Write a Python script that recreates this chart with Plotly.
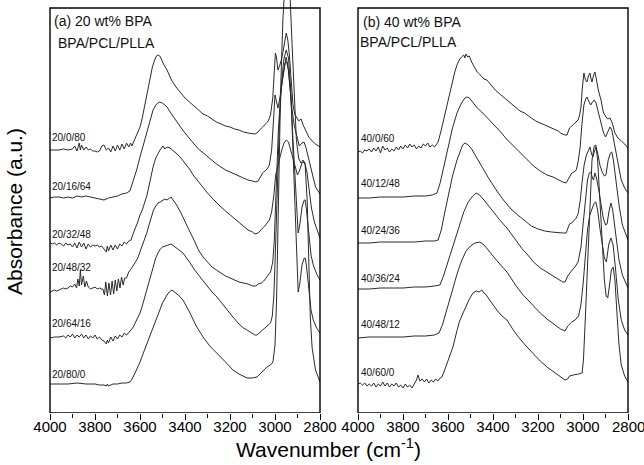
import plotly.graph_objects as go

# ---------------- data: (wavenumber cm-1, absorbance a.u., offset-stacked) ----------------
a_20_0_80 = [(4000,350),(3980,350),(3960,350),(3940,351),(3920,350),(3900,351),(3890,354),(3880,349),(3870,357),(3865,350),(3860,355),(3850,350),(3840,353),(3830,350),(3820,351),(3810,349),(3800,349),(3790,348),(3780,349),(3770,354),(3760,355),(3750,350),(3740,352),(3730,348),(3720,354),(3710,349),(3700,355),(3690,350),(3680,356),(3670,351),(3660,357),(3650,353),(3642,357),(3636,354),(3625,360),(3610,367),(3600,373),(3590,382),(3580,393),(3570,404),(3564,413),(3555,424),(3545,433),(3535,440),(3527,444),(3520,445),(3512,444),(3505,441),(3498,437),(3480,430),(3460,420),(3440,413),(3420,407),(3400,402),(3380,398),(3360,394),(3340,389),(3320,386),(3300,384),(3280,381),(3260,378),(3240,376),(3220,374),(3200,373),(3180,371),(3160,370),(3140,368),(3120,367),(3100,366),(3090,366),(3080,367),(3070,370),(3060,372),(3050,374),(3040,376),(3030,379),(3020,385),(3010,402),(3004,425),(2998,447),(2993,442),(2987,430),(2980,434),(2972,440),(2963,450),(2956,462),(2950,467),(2943,460),(2936,445),(2928,420),(2920,395),(2912,386),(2904,382),(2895,379),(2884,381),(2875,375),(2862,369),(2850,363),(2835,359),(2820,356),(2800,353)]

a_20_16_64 = [(4000,302),(3980,303),(3960,303),(3940,302),(3920,303),(3900,302),(3880,304),(3860,303),(3840,304),(3820,303),(3800,302),(3780,301),(3760,300),(3740,302),(3720,303),(3700,304),(3680,306),(3660,307),(3645,309),(3631,318),(3615,330),(3600,343),(3585,355),(3569,370),(3555,381),(3542,390),(3530,395),(3515,398),(3500,397),(3480,393),(3460,386),(3440,379),(3420,373),(3400,367),(3380,361),(3360,356),(3340,351),(3320,347),(3300,344),(3280,340),(3260,336),(3240,333),(3220,330),(3200,328),(3180,326),(3160,324),(3140,322),(3120,320),(3100,319),(3085,318),(3075,319),(3065,323),(3055,327),(3045,329),(3035,331),(3025,335),(3015,350),(3006,382),(3000,405),(2993,398),(2987,392),(2980,400),(2970,415),(2960,432),(2951,443),(2943,435),(2935,415),(2925,392),(2915,375),(2905,365),(2892,354),(2880,357),(2871,358),(2862,352),(2850,340),(2835,325),(2820,313),(2800,306)]

a_20_32_48 = [(4000,257),(3990,256),(3980,257),(3970,255),(3960,257),(3950,256),(3940,254),(3930,257),(3920,255),(3910,256),(3900,253),(3890,257),(3880,252),(3870,258),(3860,253),(3850,257),(3840,251),(3830,256),(3820,253),(3810,255),(3800,254),(3790,255),(3780,253),(3770,254),(3760,251),(3750,248),(3745,254),(3740,249),(3730,255),(3720,250),(3710,255),(3700,251),(3690,256),(3680,254),(3670,258),(3660,256),(3650,259),(3640,260),(3631,266),(3620,272),(3610,278),(3600,285),(3590,290),(3580,297),(3570,304),(3560,314),(3550,325),(3542,333),(3530,342),(3520,347),(3511,350),(3505,352),(3498,354),(3490,351),(3480,353),(3467,352),(3455,350),(3440,347),(3422,343),(3400,337),(3380,331),(3364,325),(3340,318),(3320,312),(3300,307),(3280,302),(3260,297),(3240,293),(3220,289),(3200,285),(3180,281),(3160,277),(3140,273),(3120,270),(3100,268),(3089,266),(3075,267),(3065,270),(3055,272),(3045,274),(3035,277),(3025,280),(3015,288),(3005,305),(2997,325),(2990,332),(2980,340),(2970,350),(2960,357),(2950,360),(2940,358),(2930,350),(2920,340),(2910,332),(2900,325),(2890,330),(2880,337),(2868,338),(2858,328),(2848,310),(2838,292),(2825,278),(2810,268),(2800,262)]

a_20_48_32 = [(4000,208),(3990,209),(3980,210),(3970,209),(3960,210),(3950,211),(3940,212),(3930,211),(3920,212),(3910,214),(3900,213),(3890,216),(3882,212),(3876,221),(3870,214),(3865,230),(3860,215),(3852,224),(3845,213),(3838,219),(3830,213),(3820,211),(3810,212),(3800,213),(3790,211),(3780,212),(3770,211),(3765,211),(3758,205),(3752,218),(3745,204),(3738,217),(3731,205),(3724,219),(3717,206),(3710,220),(3703,209),(3696,221),(3689,212),(3682,223),(3675,215),(3668,222),(3660,222),(3650,228),(3640,231),(3630,234),(3620,238),(3610,242),(3600,248),(3590,254),(3580,260),(3570,267),(3560,275),(3550,283),(3540,290),(3530,294),(3520,297),(3510,298),(3500,300),(3490,301),(3480,300),(3470,302),(3462,303),(3450,299),(3440,296),(3420,288),(3400,278),(3380,269),(3360,260),(3340,250),(3320,243),(3300,238),(3280,233),(3260,230),(3240,227),(3220,224),(3200,222),(3180,220),(3160,218),(3140,217),(3120,216),(3100,214),(3085,214),(3075,216),(3060,217),(3050,219),(3040,222),(3030,225),(3020,228),(3010,238),(3003,260),(2995,310),(2985,370),(2975,405),(2965,425),(2955,437),(2948,438),(2940,430),(2930,405),(2920,360),(2910,315),(2903,285),(2897,267),(2890,275),(2880,293),(2870,300),(2866,300),(2860,290),(2850,265),(2840,245),(2830,235),(2815,226),(2800,220)]

a_20_64_16 = [(4000,162),(3980,163),(3960,163),(3940,164),(3930,162),(3920,165),(3910,163),(3900,166),(3890,162),(3880,165),(3870,163),(3860,166),(3850,162),(3840,165),(3830,161),(3820,164),(3810,162),(3800,165),(3790,161),(3780,163),(3770,160),(3760,159),(3750,156),(3745,160),(3740,157),(3730,163),(3720,159),(3710,164),(3700,161),(3690,165),(3680,163),(3670,167),(3660,165),(3650,167),(3640,170),(3630,173),(3620,178),(3610,182),(3600,187),(3590,194),(3580,202),(3570,210),(3560,219),(3550,228),(3540,236),(3530,242),(3520,247),(3510,251),(3500,253),(3490,254),(3480,255),(3470,256),(3462,256),(3450,254),(3430,251),(3409,247),(3380,238),(3360,231),(3333,223),(3300,213),(3280,208),(3258,203),(3230,195),(3210,189),(3187,183),(3160,176),(3140,172),(3124,170),(3105,167),(3090,165),(3080,165),(3070,167),(3060,169),(3050,170),(3040,172),(3030,174),(3020,177),(3012,184),(3005,205),(2998,250),(2990,310),(2980,380),(2970,420),(2960,442),(2950,450),(2940,442),(2930,410),(2920,350),(2910,280),(2903,235),(2897,208),(2890,216),(2880,235),(2870,242),(2866,242),(2860,234),(2850,210),(2840,190),(2830,180),(2815,172),(2800,167)]

a_20_80_0 = [(4000,116),(3960,116),(3920,116),(3880,117),(3840,116),(3800,116),(3780,115),(3760,115),(3750,114),(3745,116),(3740,114),(3720,116),(3700,116),(3680,117),(3660,117),(3645,118),(3635,121),(3620,128),(3600,138),(3580,150),(3560,162),(3540,175),(3520,187),(3500,197),(3480,205),(3470,208),(3458,210),(3445,208),(3430,205),(3409,200),(3380,188),(3350,174),(3320,163),(3290,154),(3258,147),(3220,138),(3187,130),(3160,126),(3124,122),(3100,122),(3080,123),(3060,127),(3045,131),(3036,133),(3020,135),(3009,138),(3000,155),(2993,200),(2985,300),(2975,410),(2965,480),(2955,520),(2945,530),(2935,515),(2925,460),(2915,400),(2905,360),(2895,342),(2885,337),(2875,340),(2866,335),(2857,300),(2850,240),(2843,182),(2835,152),(2820,130),(2800,118)]

b_40_0_60 = [(4000,348),(3990,349),(3980,347),(3970,350),(3960,349),(3950,351),(3940,348),(3930,352),(3920,349),(3910,353),(3900,347),(3890,354),(3880,350),(3870,352),(3860,348),(3850,351),(3840,349),(3830,353),(3820,350),(3810,354),(3800,351),(3790,355),(3780,352),(3770,356),(3760,353),(3750,355),(3740,351),(3730,354),(3720,352),(3710,356),(3700,354),(3690,357),(3680,353),(3670,355),(3660,353),(3650,356),(3644,358),(3630,370),(3620,380),(3610,390),(3600,400),(3590,410),(3580,420),(3570,428),(3560,435),(3550,440),(3540,443),(3530,445),(3525,442),(3520,446),(3512,443),(3505,444),(3495,438),(3485,434),(3470,428),(3460,426),(3450,424),(3440,421),(3427,420),(3410,415),(3390,410),(3370,406),(3350,402),(3338,400),(3320,396),(3300,392),(3280,389),(3260,387),(3249,385),(3230,382),(3210,379),(3190,377),(3170,375),(3150,373),(3133,372),(3120,370),(3110,369),(3100,367),(3090,366),(3080,365),(3071,365),(3065,369),(3060,372),(3050,374),(3040,376),(3030,378),(3022,380),(3015,385),(3009,393),(3003,412),(2996,427),(2989,420),(2982,418),(2976,424),(2969,427),(2964,421),(2960,418),(2954,424),(2947,428),(2940,420),(2932,410),(2920,400),(2910,388),(2898,383),(2890,381),(2880,382),(2870,377),(2858,367),(2845,362),(2830,359),(2815,356),(2800,352)]

b_40_12_48 = [(4000,302),(3950,302),(3900,303),(3850,303),(3800,303),(3750,304),(3700,304),(3670,305),(3649,307),(3635,317),(3620,332),(3600,352),(3580,372),(3560,387),(3540,397),(3525,402),(3516,403),(3505,402),(3490,398),(3470,392),(3450,388),(3425,382),(3400,377),(3370,369),(3340,361),(3310,354),(3280,347),(3250,340),(3220,334),(3190,329),(3160,325),(3133,323),(3110,320),(3090,318),(3075,317),(3068,320),(3060,324),(3050,327),(3040,328),(3030,330),(3022,338),(3013,352),(3005,375),(2996,395),(2988,401),(2982,403),(2975,399),(2966,395),(2958,398),(2950,400),(2942,397),(2932,388),(2920,378),(2910,368),(2900,363),(2890,368),(2880,373),(2872,370),(2860,355),(2845,335),(2830,320),(2815,312),(2800,307)]

b_40_24_36 = [(4000,257),(3950,257),(3900,258),(3850,258),(3800,258),(3750,258),(3700,259),(3660,259),(3644,260),(3630,270),(3615,287),(3600,304),(3580,324),(3560,340),(3545,350),(3535,355),(3524,357),(3510,355),(3495,351),(3480,345),(3460,338),(3440,330),(3420,322),(3400,315),(3380,308),(3350,299),(3320,291),(3290,285),(3260,279),(3230,274),(3200,271),(3170,269),(3140,268),(3110,267),(3090,267),(3075,267),(3068,271),(3060,276),(3050,277),(3040,279),(3030,282),(3022,286),(3012,300),(3003,320),(2995,335),(2985,345),(2976,350),(2969,353),(2962,346),(2956,343),(2950,348),(2942,353),(2935,347),(2925,335),(2915,328),(2905,324),(2898,325),(2888,340),(2878,347),(2872,348),(2865,340),(2855,320),(2840,295),(2825,275),(2810,265),(2800,260)]

b_40_36_24 = [(4000,211),(3950,211),(3900,212),(3850,212),(3800,212),(3750,213),(3700,213),(3660,214),(3636,215),(3620,224),(3605,235),(3590,246),(3570,260),(3550,274),(3530,288),(3510,298),(3490,304),(3475,307),(3460,305),(3440,300),(3420,294),(3400,288),(3370,280),(3338,272),(3300,260),(3270,251),(3249,246),(3220,238),(3190,232),(3160,228),(3133,224),(3110,221),(3090,218),(3080,218),(3068,224),(3055,228),(3036,233),(3022,238),(3009,253),(3000,275),(2990,300),(2980,320),(2972,327),(2965,328),(2958,322),(2953,320),(2947,327),(2940,322),(2930,310),(2920,295),(2910,282),(2900,275),(2893,276),(2885,288),(2876,297),(2868,290),(2855,265),(2840,240),(2825,225),(2810,216),(2800,212)]

b_40_48_12 = [(4000,162),(3950,163),(3900,163),(3850,163),(3800,163),(3750,164),(3700,164),(3660,165),(3640,167),(3625,175),(3610,186),(3595,198),(3580,210),(3560,226),(3540,239),(3520,249),(3500,254),(3480,257),(3458,258),(3440,255),(3420,250),(3400,244),(3370,236),(3338,228),(3300,215),(3270,206),(3249,201),(3220,194),(3190,187),(3160,181),(3130,176),(3100,171),(3080,169),(3068,174),(3050,178),(3035,180),(3020,184),(3010,194),(3000,215),(2990,245),(2980,270),(2970,285),(2960,292),(2950,297),(2943,298),(2935,290),(2925,272),(2915,255),(2905,242),(2896,238),(2886,255),(2876,262),(2866,255),(2855,230),(2843,200),(2830,180),(2815,170),(2800,165)]

b_40_60_0 = [(4000,116),(3990,117),(3980,115),(3970,117),(3960,114),(3950,116),(3940,114),(3930,117),(3920,113),(3910,116),(3900,114),(3890,118),(3880,114),(3870,117),(3860,113),(3850,116),(3840,114),(3830,117),(3820,113),(3810,115),(3800,112),(3790,116),(3780,113),(3770,115),(3760,112),(3750,116),(3740,120),(3733,125),(3725,119),(3715,121),(3705,118),(3695,121),(3685,117),(3675,120),(3665,118),(3655,121),(3645,119),(3635,122),(3627,123),(3615,130),(3600,140),(3590,146),(3578,153),(3565,165),(3550,178),(3533,187),(3520,194),(3505,201),(3489,207),(3475,209),(3462,208),(3449,210),(3440,207),(3430,205),(3415,200),(3400,195),(3380,189),(3360,184),(3338,180),(3310,170),(3280,161),(3249,153),(3220,146),(3190,139),(3160,133),(3130,128),(3100,123),(3080,120),(3068,121),(3060,124),(3044,125),(3030,126),(3020,126),(3004,127),(2998,140),(2990,180),(2980,240),(2970,300),(2960,340),(2950,354),(2943,355),(2935,340),(2925,300),(2915,255),(2905,220),(2897,204),(2890,202),(2882,215),(2874,230),(2866,233),(2858,220),(2850,190),(2840,155),(2830,135),(2815,124),(2800,118)]

panel_a_curves = [a_20_0_80, a_20_16_64, a_20_32_48, a_20_48_32, a_20_64_16, a_20_80_0]
panel_a_labels = ["20/0/80", "20/16/64", "20/32/48", "20/48/32", "20/64/16", "20/80/0"]
panel_a_label_y = [363, 314, 266, 233, 177, 126]
panel_b_curves = [b_40_0_60, b_40_12_48, b_40_24_36, b_40_36_24, b_40_48_12, b_40_60_0]
panel_b_labels = ["40/0/60", "40/12/48", "40/24/36", "40/36/24", "40/48/12", "40/60/0"]
panel_b_label_y = [362, 317, 270, 222, 176, 128]
tick_vals = [4000, 3800, 3600, 3400, 3200, 3000, 2800]
minor_vals = [3900, 3700, 3500, 3300, 3100, 2900]

FONT = "Arial, Liberation Sans, sans-serif"
LINE = "#2b2b2b"

fig = go.Figure()
for curve in panel_a_curves:
    wn, ab = zip(*curve)
    fig.add_trace(go.Scatter(x=list(wn), y=list(ab), mode="lines",
                             line=dict(color=LINE, width=1), xaxis="x", yaxis="y",
                             hoverinfo="skip"))
for curve in panel_b_curves:
    wn, ab = zip(*curve)
    fig.add_trace(go.Scatter(x=list(wn), y=list(ab), mode="lines",
                             line=dict(color=LINE, width=1), xaxis="x2", yaxis="y2",
                             hoverinfo="skip"))

y_dom = [1 - 413/465, 1.0]
xax = dict(range=[4000, 2800], tickvals=tick_vals, ticks="outside", ticklen=6,
           tickwidth=1.2, tickcolor="black", showgrid=False, zeroline=False,
           showline=False, automargin=False,
           tickfont=dict(family=FONT, size=15, color="black"),
           minor=dict(tickvals=minor_vals, ticks="outside",
                      ticklen=4, tickwidth=1.2, tickcolor="black", showgrid=False),
           ticklabelstandoff=-6)
yax = dict(range=[87, 500], showticklabels=False, ticks="", showgrid=False,
           zeroline=False, showline=False, automargin=False)

fig.update_layout(
    width=644, height=465, margin=dict(l=0, r=0, t=0, b=0, autoexpand=False),
    paper_bgcolor="white", plot_bgcolor="white", showlegend=False,
    xaxis=dict(domain=[50/644, 320/644], anchor="y", **xax),
    yaxis=dict(domain=y_dom, anchor="x", **yax),
    xaxis2=dict(domain=[358/644, 628/644], anchor="y2", **xax),
    yaxis2=dict(domain=y_dom, anchor="x2", **yax),
)

for xr, yr in (("x domain", "y"), ("x2 domain", "y2")):
    fig.add_shape(type="rect", xref=xr, yref=yr, x0=0, x1=1, y0=87, y1=492,
                  line=dict(color="black", width=1.4), fillcolor="rgba(0,0,0,0)")

def label(text, x, y, xref, yref, size):
    fig.add_annotation(text=text, x=x, y=y, xref=xref, yref=yref, showarrow=False,
                       xanchor="left", yanchor="middle", borderpad=0,
                       font=dict(family=FONT, size=size, color="#111"))

for t, yv in zip(panel_a_labels, panel_a_label_y):
    label(t, 3995, yv, "x", "y", 10)
for t, yv in zip(panel_b_labels, panel_b_label_y):
    label(t, 3990, yv, "x2", "y2", 10)

label("(a) 20 wt% BPA", 3988, 479, "x", "y", 14)
label("BPA/PCL/PLLA", 3968, 457, "x", "y", 14)
label("(b) 40 wt% BPA", 3982, 478, "x2", "y2", 14)
label("BPA/PCL/PLLA", 3996, 458, "x2", "y2", 14)

# last tick label of panel (b) runs past the page edge, as in the original figure
fig.add_annotation(text="2800", x=2800, xref="x2", y=1 - 426/465, yref="paper",
                   showarrow=False, xanchor="center", yanchor="middle",
                   font=dict(family=FONT, size=15, color="black"))

fig.add_annotation(text="Wavenumber (cm<sup>-1</sup>)", x=328/644, y=1 - 448/465,
                   xref="paper", yref="paper", showarrow=False,
                   xanchor="center", yanchor="middle",
                   font=dict(family=FONT, size=21, color="black"))
fig.add_annotation(text="Absorbance (a.u.)", x=14/644, y=1 - 212/465,
                   xref="paper", yref="paper", showarrow=False, textangle=-90,
                   xanchor="center", yanchor="middle",
                   font=dict(family=FONT, size=21, color="black"))

fig.write_html("out.html")
